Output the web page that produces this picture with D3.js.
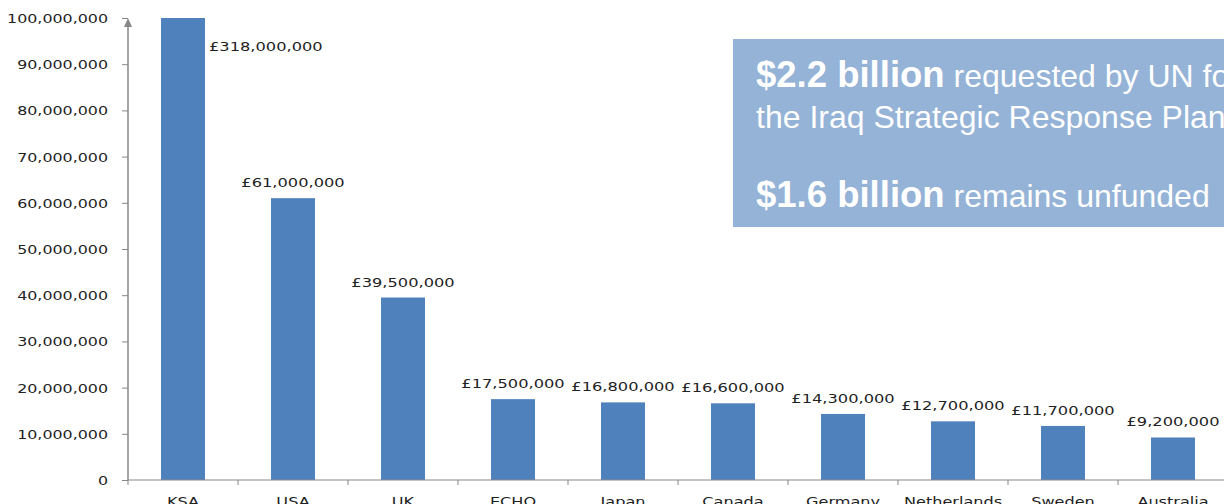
<!DOCTYPE html>
<html>
<head>
<meta charset="utf-8">
<script src="https://cdn.jsdelivr.net/npm/d3@7"></script>
<style>
  body { margin: 0; background: #fff; }
  svg { display: block; }
</style>
</head>
<body>
<svg id="chart"></svg>
<script>
// data
const donors = ["KSA", "USA", "UK", "ECHO", "Japan", "Canada", "Germany", "Netherlands", "Sweden", "Australia"];
const pledged = [318000000, 61000000, 39500000, 17500000, 16800000, 16600000, 14300000, 12700000, 11700000, 9200000];
const y_ticks = [0, 10000000, 20000000, 30000000, 40000000, 50000000, 60000000, 70000000, 80000000, 90000000, 100000000];
const note_lines = [
  ["$2.2 billion", " requested by UN for"],
  ["", "the Iraq Strategic Response Plan"],
  ["$1.6 billion", " remains unfunded"]
];

const w = 1224, h = 504;
const svg = d3.select("#chart").attr("width", w).attr("height", h);

let x0 = 128, y0 = 480
let x = d3.scaleBand().domain(donors).range([x0, 1228]).paddingInner(0.6).paddingOuter(0.3);
let y = d3.scaleLinear().domain([0, 100000000]).range([y0, 18]).clamp(true);

let axis_col = "#878787"
let fmt = d3.format(",")

// text in the picture is drawn a bit wide, so squeeze it back out with a scale
function wide(sel, sx) {
  sel.each(function () {
    let t = d3.select(this)
    let tx = +t.attr("data-x"), ty = +t.attr("data-y")
    t.attr("transform", "translate(" + tx + "," + ty + ") scale(" + sx + ",1)")
  })
}

// bars
svg.append("g").selectAll("rect")
   .data(donors)
   .join("rect")
   .attr("x", d => x(d))
   .attr("y", (d, i) => y(pledged[i]))
   .attr("width", x.bandwidth())
   .attr("height", (d, i) => y0 - y(pledged[i]))
   .attr("fill", "#4f81bd");

// value labels
svg.append("g").selectAll("text")
   .data(donors)
   .join("text")
   .attr("data-x", (d, i) => pledged[i] > 100000000 ? x(d) + x.bandwidth() + 4 : x(d) + x.bandwidth() / 2)
   .attr("data-y", (d, i) => pledged[i] > 100000000 ? 51 : y(pledged[i]) - 11)
   .attr("text-anchor", (d, i) => pledged[i] > 100000000 ? "start" : "middle")
   .attr("font-family", "DejaVu Sans")
   .attr("font-size", 12.5)
   .attr("fill", "#222")
   .text((d, i) => "£" + fmt(pledged[i]))
   .call(wide, 1.3);

// y axis
let y_axis = svg.append("g")
   .attr("transform", "translate(" + x0 + ",0)")
   .call(d3.axisLeft(y).tickValues(y_ticks).tickSize(6).tickPadding(0).tickFormat(fmt));
y_axis.select(".domain").remove();
y_axis.selectAll(".tick line").attr("stroke", axis_col);
y_axis.selectAll(".tick text")
   .attr("x", null).attr("dy", null)
   .attr("dominant-baseline", "central")
   .attr("font-family", "DejaVu Sans")
   .attr("font-size", 13)
   .attr("fill", "#222")
   .attr("transform", "translate(-20,0) scale(1.22,1)");

svg.append("line")
   .attr("x1", x0).attr("x2", x0)
   .attr("y1", y0).attr("y2", 24)
   .attr("stroke", axis_col).attr("stroke-width", 1.5);
svg.append("path")
   .attr("d", "M" + x0 + ",18 L" + (x0 - 4) + ",27 L" + (x0 + 4) + ",27 Z")
   .attr("fill", axis_col);

// x axis
svg.append("line")
   .attr("x1", x0).attr("x2", w)
   .attr("y1", y0).attr("y2", y0)
   .attr("stroke", axis_col).attr("stroke-width", 1);
svg.append("g").selectAll("line")
   .data(donors)
   .join("line")
   .attr("x1", d => x(d) - x.step() * x.paddingInner() / 2)
   .attr("x2", d => x(d) - x.step() * x.paddingInner() / 2)
   .attr("y1", y0).attr("y2", y0 + 5)
   .attr("stroke", axis_col);

svg.append("g").selectAll("text")
   .data(donors)
   .join("text")
   .attr("data-x", d => x(d) + x.bandwidth() / 2)
   .attr("data-y", 506)
   .attr("text-anchor", "middle")
   .attr("font-family", "DejaVu Sans")
   .attr("font-size", 13)
   .attr("fill", "#222")
   .text(d => d)
   .call(wide, 1.24);

// note box
svg.append("rect")
   .attr("x", 733).attr("y", 39)
   .attr("width", 520).attr("height", 188)
   .attr("fill", "#95b3d7");

let note_y = [87, 128, 207]
let note = svg.append("g")
   .attr("font-family", "Liberation Sans, Arial, sans-serif")
   .attr("fill", "#fff");
note_lines.forEach(function (ln, i) {
  let t = note.append("text").attr("x", 756).attr("y", note_y[i]).attr("xml:space", "preserve")
  if (ln[0] != "") t.append("tspan").attr("font-weight", "bold").attr("font-size", 36.5).text(ln[0])
  t.append("tspan").attr("font-size", 32).text(ln[0] != "" ? ln[1] : ln[1])
});
</script>
</body>
</html>
